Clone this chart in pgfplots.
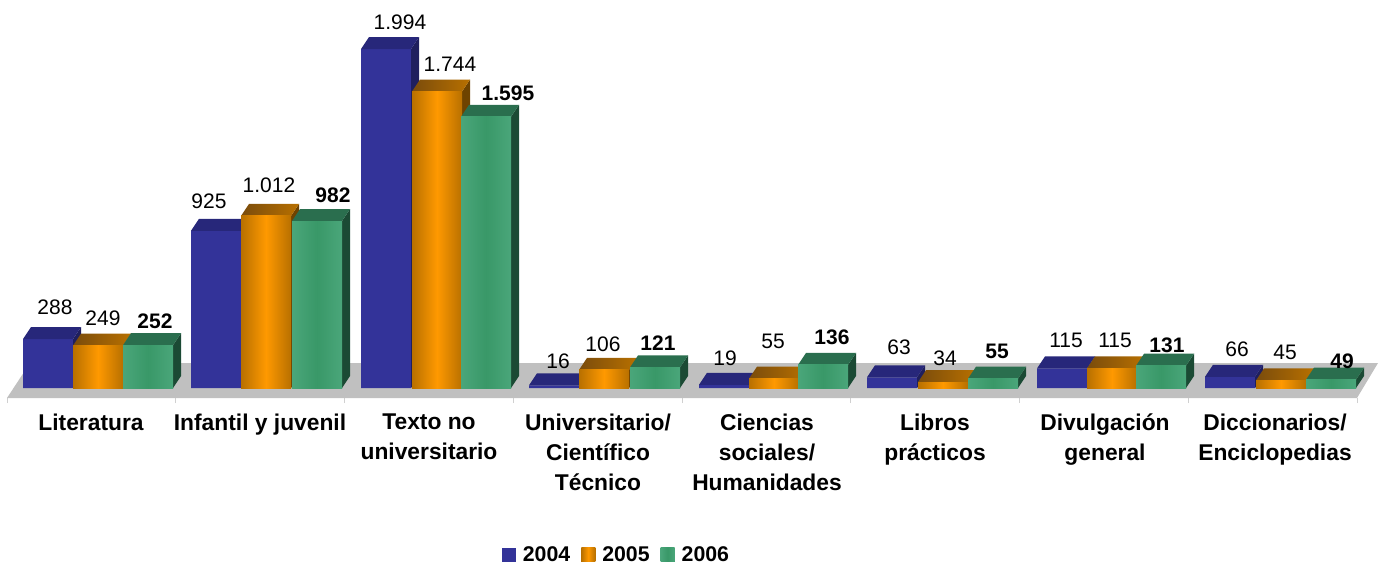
\documentclass[border=0pt]{standalone}
\usepackage{fontspec}
\setmainfont{Liberation Sans}
\usepackage{pgfplots}
\usepackage{pgfplotstable}
\pgfplotsset{compat=1.18}

\definecolor{blueF}{HTML}{333399}
\definecolor{blueT}{HTML}{27277A}
\definecolor{blueS}{HTML}{1F1F5E}
\definecolor{orgF}{HTML}{FF9900}
\definecolor{orgE}{HTML}{B87000}
\definecolor{orgT}{HTML}{B87000}
\definecolor{orgTd}{HTML}{7A4C0C}
\definecolor{orgS}{HTML}{6E4300}
\definecolor{grnF}{HTML}{399868}
\definecolor{grnE}{HTML}{4AA67A}
\definecolor{grnT}{HTML}{2A6E4E}
\definecolor{grnS}{HTML}{1B4A34}
\definecolor{floor}{HTML}{C0C0C0}
\definecolor{floortick}{HTML}{D0D0D0}

% x = bar centre, val = value, lx ly = label centre in picture pixels
\pgfplotstableread{
x    val   lx    ly
48   288   55    307
216  925   209   201
386  1994  400   22
554  16    558   361
724  19    725   358
892  63    899   347
1062 115   1066  340
1230 66    1237  349
}\dataA
\pgfplotstableread{
x    val   lx    ly
98   249   103   318
266  1012  269   185
437  1744  450   64
604  106   603   344
774  55    773   341
943  34    945   358
1112 115   1115  340
1281 45    1285  352
}\dataB
\pgfplotstableread{
x    val   lx    ly
148  252   155   321
317  982   333   195
486  1595  508   93
655  121   658   343
823  136   832   337
993  55    997   351
1161 131   1167  345
1331 49    1342  361
}\dataC

% side, top and shaded front of a bar, \barh is the height of the front face
\pgfdeclareplotmark{faceA}{%
  \fill[blueS,draw=none] (25pt,0pt)--(33pt,12pt)--(33pt,12pt-\barh pt)--(25pt,-\barh pt)--cycle;
  \fill[blueT,draw=none] (-25pt,0pt)--(-17pt,12pt)--(33pt,12pt)--(25pt,0pt)--cycle;}
\pgfdeclareplotmark{faceB}{%
  \fill[orgS,draw=none] (25pt,0pt)--(33pt,12pt)--(33pt,12pt-\barh pt)--(25pt,-\barh pt)--cycle;
  \shade[draw=none,left color=orgTd,right color=orgT] (-25pt,0pt)--(-17pt,12pt)--(33pt,12pt)--(25pt,0pt)--cycle;
  \shade[draw=none,left color=orgE,right color=orgE,middle color=orgF] (-25pt,0pt) rectangle (25pt,-\barh pt);}
\pgfdeclareplotmark{faceC}{%
  \fill[grnS,draw=none] (25pt,0pt)--(33pt,12pt)--(33pt,12pt-\barh pt)--(25pt,-\barh pt)--cycle;
  \fill[grnT,draw=none] (-25pt,0pt)--(-17pt,12pt)--(33pt,12pt)--(25pt,0pt)--cycle;
  \shade[draw=none,left color=grnE,right color=grnE,middle color=grnF] (-25pt,0pt) rectangle (25pt,-\barh pt);}

\pgfplotsset{
  faces/.style={scatter,only marks,mark=#1,forget plot,
    scatter/use mapped color={draw=none,fill=none},
    visualization depends on={\thisrow{val}*0.17 \as \barh}},
  front/.style={ybar,bar width=50pt,bar shift=0pt,draw=none},
  labels/.style={draw=none,mark=none,forget plot,point meta=\thisrow{val},
    visualization depends on={\thisrow{lx}-\thisrow{x} \as \dx},
    visualization depends on={388-\thisrow{val}*0.17-\thisrow{ly} \as \dy},
    nodes near coords,
    every node near coord/.append style={anchor=center,inner sep=0pt,
      xshift=\dx pt,yshift=\dy pt,text=black,#1}},
}

\begin{document}
\begin{tikzpicture}
\useasboundingbox (0,0) rectangle (1381pt,565pt);
\begin{axis}[
    at={(0pt,167pt)},anchor=south west,
    scale only axis,width=1381pt,height=398pt,
    xmin=0,xmax=1381,ymin=-58.8,ymax=2282.4,
    clip=false,
    axis x line*=bottom,axis y line=none,
    axis line style={draw=none},
    ytick=\empty,
    xtick={91,260,429,598,767,935,1105,1275},
    xticklabels={Literatura,Infantil y juvenil,Texto no\\universitario,
      Universitario/\\Científico\\Técnico,Ciencias\\sociales/\\Humanidades,
      Libros\\prácticos,Divulgación\\general,Diccionarios/\\Enciclopedias},
    minor xtick={7,175.75,344.5,513.25,682,850.75,1019.5,1188.25,1357},
    major tick length=0pt,
    minor tick length=5pt,
    tick align=outside,
    minor tick style={floortick,line width=1pt},
    xticklabel style={align=center,anchor=north,yshift=-12.5pt,
      font=\bfseries\fontsize{22.8}{30}\selectfont},
    /pgf/number format/.cd,fixed,1000 sep={.},assume math mode=true,
    /pgfplots/.cd,
    legend columns=3,
    legend style={at={(0.4464,-0.394)},anchor=center,draw=none,fill=none,
      font=\bfseries\fontsize{21.3}{24}\selectfont,
      /tikz/every odd column/.append style={column sep=5pt},
      /tikz/every even column/.append style={column sep=9pt}},
  ]
% floor
\addplot[fill=floor,draw=none,forget plot] coordinates
  {(7,-58.8) (1357,-58.8) (1378,147) (30,147)} --cycle;

\addplot[front,fill=blueF,
  legend image code/.code={\fill[blueF] (0pt,-7pt) rectangle (14pt,7pt);}]
  table[x=x,y=val] {\dataA};
\addlegendentry{2004}
\addplot[faces=faceA] table[x=x,y=val] {\dataA};

\addplot[front,fill=orgE,
  legend image code/.code={\shade[left color=orgE,right color=orgE,middle color=orgF] (0pt,-7pt) rectangle (14pt,7pt);}]
  table[x=x,y=val] {\dataB};
\addlegendentry{2005}
\addplot[faces=faceB] table[x=x,y=val] {\dataB};

\addplot[front,fill=grnF,
  legend image code/.code={\shade[left color=grnE,right color=grnE,middle color=grnF] (0pt,-7pt) rectangle (14pt,7pt);}]
  table[x=x,y=val] {\dataC};
\addlegendentry{2006}
\addplot[faces=faceC] table[x=x,y=val] {\dataC};

% value labels on top of everything
\addplot[labels={font=\fontsize{21}{24}\selectfont}] table[x=x,y=val] {\dataA};
\addplot[labels={font=\fontsize{21}{24}\selectfont}] table[x=x,y=val] {\dataB};
\addplot[labels={font=\bfseries\fontsize{21}{24}\selectfont}] table[x=x,y=val] {\dataC};
\end{axis}
\end{tikzpicture}
\end{document}
